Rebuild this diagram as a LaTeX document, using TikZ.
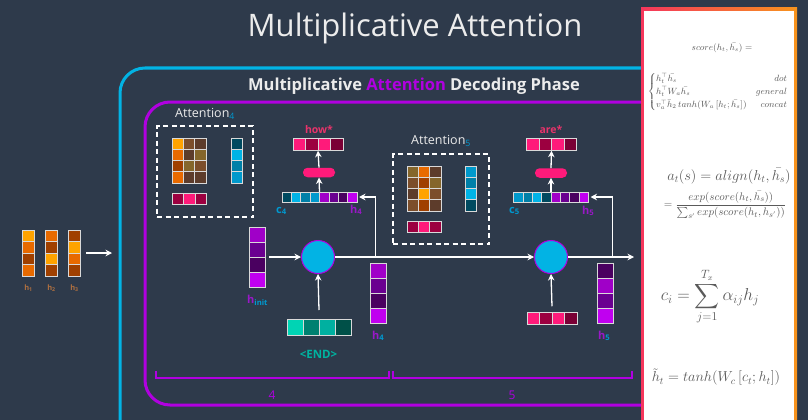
\documentclass[tikz,border=0pt]{standalone}
\usepackage{amsmath}
\usepackage{fontspec}
\setmainfont{Open Sans}
\usetikzlibrary{positioning,calc,arrows.meta}

\definecolor{bgcol}{HTML}{2E3A4B}
\definecolor{ublue}{HTML}{02B3E4}
\definecolor{upurple}{HTML}{B000E0}
\definecolor{titlecol}{HTML}{ECECEC}
\definecolor{oy}{HTML}{FFA300}
\definecolor{oo}{HTML}{E86A00}
\definecolor{ob}{HTML}{A04000}
\definecolor{ba}{HTML}{004A60}
\definecolor{bb}{HTML}{00B3E6}
\definecolor{bc}{HTML}{0080A8}
\definecolor{bd}{HTML}{0099CC}
\definecolor{pa}{HTML}{A000C8}
\definecolor{pb}{HTML}{6A0090}
\definecolor{pc}{HTML}{4A0060}
\definecolor{pd}{HTML}{C000F0}
\definecolor{ka}{HTML}{FF1A7A}
\definecolor{kb}{HTML}{9C0040}
\definecolor{kc}{HTML}{7A0035}
\definecolor{ta}{HTML}{00D4B4}
\definecolor{tb}{HTML}{008070}
\definecolor{tc}{HTML}{00B0A0}
\definecolor{td}{HTML}{005048}
\definecolor{ctext}{HTML}{0099D0}
\definecolor{htext}{HTML}{9A18C8}
\definecolor{wtext}{HTML}{E8336B}
\definecolor{endtext}{HTML}{00B3A0}
\definecolor{inlab}{HTML}{B07040}
\definecolor{pred}{HTML}{F5365C}
\definecolor{porange}{HTML}{F7941D}
\definecolor{mathcol}{HTML}{5A5A5A}

\tikzset{
    vec/.style={inner sep=0pt, outer sep=0pt},
    cell/.style={draw=white!70!gray, line width=0.7pt},
    faded/.style={fill opacity=0.42},
    flow/.style={draw=white, line width=1.3pt, -{Stealth[length=6.5pt,width=6.5pt]}},
    rnn/.style={circle, fill=ublue, draw=upurple, line width=1pt, minimum size=33pt, inner sep=0pt},
    pill/.style={rounded corners=4.5pt, fill=ka, minimum width=32pt, minimum height=9.5pt, inner sep=0pt},
    attbox/.style={draw=white, dash pattern=on 5pt off 3.5pt, line width=1.3pt, inner sep=0pt},
    brkt/.style={draw=upurple, line width=1.5pt},
    lbl/.style={inner sep=0pt, anchor=base west, font=\bfseries\fontsize{10}{12}\selectfont},
    mathtxt/.style={inner sep=0pt, text=mathcol}
}

% cells of a vector, laid from the node's top left corner
\newcommand{\hcells}[5][]{%
    \foreach \c [count=\i from 0] in {#5}
        \filldraw[cell,#1,fill=\c] ($(#2.north west)+(\i*#3,0)$) rectangle ++(#3,#4);}
\newcommand{\vcells}[5][]{%
    \foreach \c [count=\i from 0] in {#5}
        \filldraw[cell,#1,fill=\c] ($(#2.north west)+(0,\i*#4)$) rectangle ++(#3,#4);}

\begin{document}
\begin{tikzpicture}[x=1pt,y=-1pt]
    \clip (0,0) rectangle (808,420);
    \fill[bgcol] (0,0) rectangle (808,420);

    % titles and frames
    \node[anchor=base, text=titlecol, font=\fontsize{31}{36}\selectfont] (title) at (415,37) {Multiplicative Attention};
    \draw[ublue, line width=3pt, rounded corners=25pt] (120,68) rectangle (780,470);
    \node[anchor=base, text=titlecol, font=\bfseries\fontsize{16.5}{20}\selectfont] (subtitle) at (414,90)
        {Multiplicative \textcolor{upurple}{Attention} Decoding Phase};
    \draw[upurple, line width=3pt, rounded corners=25pt] (145,102) rectangle (780,405);

    % encoder states
    \node[vec, minimum width=11.5pt, minimum height=46pt] (h1) at (28.5,253) {};
    \node[vec, minimum width=11.5pt, minimum height=46pt, right=11.5pt of h1] (h2) {};
    \node[vec, minimum width=11.5pt, minimum height=46pt, right=11.5pt of h2] (h3) {};
    \vcells{h1}{11.5}{11.5}{oy,oo,ob,oo}
    \vcells{h2}{11.5}{11.5}{oo,ob,oy,ob}
    \vcells{h3}{11.5}{11.5}{ob,oy,oo,ob}
    \foreach \n/\k in {h1/1,h2/2,h3/3}
        \node[lbl, anchor=base, text=inlab, font=\bfseries\fontsize{7.5}{9}\selectfont] (l\n) at ($(\n.south)+(0,14)$) {h\textsubscript{\k}};
    \coordinate (encin) at (112,253);
    \draw[flow] ([xshift=6pt]h3.east) -- (encin);

    % attention, step 4
    \node[attbox, minimum width=96pt, minimum height=91pt] (att4) at (205,171.5) {};
    \node[lbl, font=\fontsize{12.5}{14}\selectfont, text=titlecol] (latt4) at (175,117) {Attention\textsubscript{\color{ctext}4}};
    \node[vec, minimum width=11.3pt, minimum height=45pt] (m4a) at (177.7,160.5) {};
    \node[vec, minimum width=11.3pt, minimum height=45pt, right=0pt of m4a] (m4b) {};
    \node[vec, minimum width=11.3pt, minimum height=45pt, right=0pt of m4b] (m4c) {};
    \vcells{m4a}{11.3}{11.25}{oy,oo,ob,oo}
    \vcells[faded]{m4b}{11.3}{11.25}{oo,ob,oy,ob}
    \vcells[faded]{m4c}{11.3}{11.25}{ob,oy,oo,ob}
    \node[vec, minimum width=11.3pt, minimum height=45pt] (ctx4) at (236.5,160.5) {};
    \vcells{ctx4}{11.3}{11.25}{ba,bb,bc,bd}
    \node[vec, minimum width=34pt, minimum height=11.3pt] (sc4) at (189.5,199) {};
    \hcells{sc4}{11.33}{11.3}{kb,ka,kb}

    % attention, step 5
    \node[attbox, minimum width=96pt, minimum height=90pt] (att5) at (441,199) {};
    \node[lbl, font=\fontsize{12.5}{14}\selectfont, text=titlecol] (latt5) at (411,144) {Attention\textsubscript{\color{ctext}5}};
    \node[vec, minimum width=11.3pt, minimum height=45pt] (m5a) at (412.6,188.5) {};
    \node[vec, minimum width=11.3pt, minimum height=45pt, right=0pt of m5a] (m5b) {};
    \node[vec, minimum width=11.3pt, minimum height=45pt, right=0pt of m5b] (m5c) {};
    \vcells[faded]{m5a}{11.3}{11.25}{oy,oo,ob,oo}
    \vcells{m5b}{11.3}{11.25}{oo,ob,oy,ob}
    \vcells[faded]{m5c}{11.3}{11.25}{ob,oy,oo,ob}
    \node[vec, minimum width=11.3pt, minimum height=45pt] (ctx5) at (471,188.5) {};
    \vcells{ctx5}{11.3}{11.25}{bd,bc,bb,ba}
    \node[vec, minimum width=34pt, minimum height=11.3pt] (sc5) at (424,226.5) {};
    \hcells{sc5}{11.33}{11.3}{kb,ka,kb}

    % decoder, step 4
    \node[rnn] (cell4) at (318,257) {};
    \node[vec, minimum width=16pt, minimum height=60pt] (hinit) at (257,257) {};
    \vcells{hinit}{16}{15}{pa,pb,pc,pd}
    \node[lbl, text=htext, font=\bfseries\fontsize{11}{12}\selectfont] (lhinit) at (247,303) {h\textsubscript{\color{ctext}init}};
    \node[vec, minimum width=64pt, minimum height=16pt] (end) at (319,327) {};
    \hcells{end}{16}{16}{ta,tb,tc,td}
    \node[lbl, anchor=base, text=endtext, font=\bfseries\fontsize{11.5}{13}\selectfont] (lend) at (318.5,358) {<END>};
    \node[vec, minimum width=16pt, minimum height=60pt] (hd4) at (378,293) {};
    \vcells{hd4}{16}{15}{pa,pb,pc,pd}
    \node[lbl, text=htext, font=\bfseries\fontsize{11}{12}\selectfont] (lhd4) at (372,339) {h\textsubscript{\color{ctext}4}};
    \node[vec, minimum width=75pt, minimum height=10pt] (cat4) at (319.5,197) {};
    \hcells{cat4}{9.375}{10}{ba,bb,bc,bd,pa,pb,pc,pd}
    \node[lbl, text=ctext, font=\bfseries\fontsize{11}{12}\selectfont] (lc4) at (276,213) {c\textsubscript{4}};
    \node[lbl, text=htext, font=\bfseries\fontsize{11}{12}\selectfont] (lh4) at (350,213) {h\textsubscript{4}};
    \node[pill] (pill4) at (319,172.5) {};
    \node[vec, minimum width=50pt, minimum height=12.5pt] (out4) at (318,144.5) {};
    \hcells{out4}{12.5}{12.5}{ka,kb,ka,kc}
    \node[lbl, anchor=base, text=wtext, font=\bfseries\fontsize{10.5}{12}\selectfont] (lout4) at (319,133) {how*};

    % decoder, step 5
    \node[rnn] (cell5) at (551,257) {};
    \node[vec, minimum width=50pt, minimum height=12.5pt] (emb5) at (552,318.5) {};
    \hcells{emb5}{12.5}{12.5}{ka,kb,ka,kc}
    \node[vec, minimum width=16pt, minimum height=60pt] (hd5) at (605,293) {};
    \vcells{hd5}{16}{15}{pc,pa,pb,pd}
    \node[lbl, text=htext, font=\bfseries\fontsize{11}{12}\selectfont] (lhd5) at (598,339) {h\textsubscript{\color{ctext}5}};
    \node[vec, minimum width=75pt, minimum height=10pt] (cat5) at (551,197) {};
    \hcells{cat5}{9.375}{10}{bd,bc,bb,ba,pa,pb,pc,pd}
    \node[lbl, text=ctext, font=\bfseries\fontsize{11}{12}\selectfont] (lc5) at (509,213) {c\textsubscript{5}};
    \node[lbl, text=htext, font=\bfseries\fontsize{11}{12}\selectfont] (lh5) at (582,214) {h\textsubscript{5}};
    \node[pill] (pill5) at (551,173) {};
    \node[vec, minimum width=50pt, minimum height=12.5pt] (out5) at (551.5,144.5) {};
    \hcells{out5}{12.5}{12.5}{ka,kb,ka,kc}
    \node[lbl, anchor=base, text=wtext, font=\bfseries\fontsize{10.5}{12}\selectfont] (lout5) at (551,133) {are*};

    % connectors
    \coordinate (br4) at (375.5,257);
    \coordinate (br5) at (612.5,257);
    \coordinate (decout) at (634,257);
    \draw[flow] ([xshift=4pt]hinit.east) -- (cell4.west);
    \draw[flow] ([yshift=9pt]end.north) -- (cell4.south);
    \draw[flow] (cell4.east) -- (cell5.west);
    \draw[flow] (br4) |- ([xshift=2pt]cat4.east);
    \draw[flow] (cat4.north) -- (pill4.south);
    \draw[flow] (pill4.north) -- (out4.south);
    \draw[flow] ([yshift=6pt]emb5.north) -- (cell5.south);
    \draw[flow] (cell5.east) -- (decout);
    \draw[flow] (br5) |- ([xshift=2pt]cat5.east);
    \draw[flow] (cat5.north) -- (pill5.south);
    \draw[flow] (pill5.north) -- (out5.south);

    % time steps
    \draw[brkt] (156,371) |- (389,378) -- (389,371);
    \draw[brkt] (393,371) |- (632,378) -- (632,371);
    \node[lbl, anchor=base, text=upurple, font=\fontsize{12}{14}\selectfont] (t4) at (272,399) {4};
    \node[lbl, anchor=base, text=upurple, font=\fontsize{12}{14}\selectfont] (t5) at (512,399) {5};

    % formula panel
    \shade[left color=pred, right color=porange] (641,8) rectangle (797,430);
    \fill[white] (644,11) rectangle (794,430);
    \node[mathtxt, font=\fontsize{8.7}{10}\selectfont] (score) at (722,48) {$score(h_t,\bar{h_s}) =$};
    \node[mathtxt, font=\fontsize{9.2}{11}\selectfont] (cases) at (718,92)
        {$\begin{cases} h_t^\top \bar{h_s} & \hfill dot\\ h_t^\top W_a \bar{h_s} & \hfill general\\ v_a^\top \bar{h}_2\, tanh(W_a\,[h_t;\bar{h_s}]) & \hfill concat\end{cases}$};
    \node[mathtxt, font=\fontsize{14}{16}\selectfont] (align) at (729,176) {$a_t(s) = align(h_t,\bar{h_s})$};
    \node[mathtxt, font=\fontsize{11}{13}\selectfont] (softmax) at (725,205)
        {$\displaystyle = \frac{exp(score(h_t,\bar{h_s}))}{\sum_{s'} exp(score(h_t,\bar{h_{s'}}))}$};
    \node[mathtxt, font=\fontsize{17}{20}\selectfont] (ctxf) at (710,297) {$\displaystyle c_i = \sum_{j=1}^{T_x} \alpha_{ij} h_j$};
    \node[mathtxt, font=\fontsize{14.5}{17}\selectfont] (attnf) at (716,377) {$\tilde{h}_t = tanh(W_c\,[c_t;h_t])$};
\end{tikzpicture}
\end{document}
